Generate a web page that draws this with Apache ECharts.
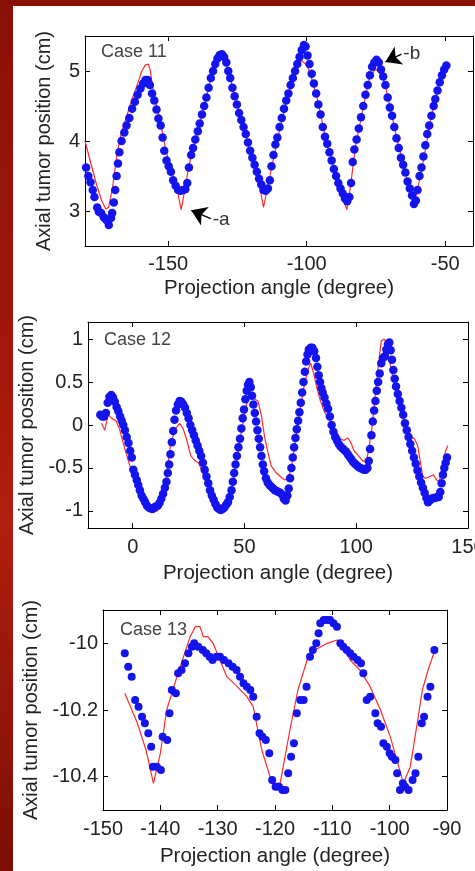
<!DOCTYPE html>
<html>
<head>
<meta charset="utf-8">
<script src="https://cdn.jsdelivr.net/npm/echarts@6/dist/echarts.min.js"></script>
<style>
  html, body { margin: 0; padding: 0; }
  body { width: 475px; height: 871px; position: relative; overflow: hidden;
         background: linear-gradient(180deg, #8a1006 0%, #a5190b 45%, #b01e0e 60%, #7c0e04 100%); }
  #paper { position: absolute; left: 13px; top: 6px; right: 0; bottom: 0; background: #ffffff; }
  #chart { position: absolute; left: 0; top: 0; width: 475px; height: 871px; }
</style>
</head>
<body>
<div id="paper"></div>
<div id="chart"></div>
<script>
// ---- Case 11: measured (dots) and model (line), projection angle vs axial position
const case11Dots = [
  [-180.4,3.75],[-179.6,3.62],[-178.8,3.5],[-178,3.41],[-177.2,3.3],[-176.6,3.2],[-175.6,3.05],[-175,2.99],
  [-174.2,2.97],[-173.2,2.91],[-172.3,2.87],[-171.4,2.8],[-170.6,2.9],[-170.2,2.97],[-169.6,3.12],[-169.1,3.3],
  [-168.6,3.5],[-168.1,3.68],[-167.6,3.84],[-166.8,4.0],[-165.8,4.12],[-165,4.22],[-164,4.33],[-163,4.46],
  [-162,4.56],[-161,4.66],[-160,4.75],[-159,4.82],[-158.2,4.87],[-157.4,4.87],[-156.6,4.8],[-155.8,4.68],
  [-155,4.58],[-154.2,4.45],[-153.5,4.32],[-152.7,4.22],[-152,4.05],[-151.4,3.86],[-150.6,3.72],[-149.8,3.64],
  [-149,3.56],[-148.2,3.44],[-147.3,3.36],[-146.4,3.3],[-145.5,3.29],[-144.6,3.3],[-143.8,3.31],[-143.1,3.4],
  [-142.5,3.62],[-141.7,3.8],[-141,3.9],[-140.2,4.02],[-139.3,4.14],[-138.6,4.25],[-137.8,4.38],[-137,4.5],
  [-136.2,4.62],[-135.4,4.76],[-134.6,4.9],[-133.8,5.0],[-133,5.1],[-132.2,5.18],[-131.4,5.23],[-130.6,5.24],
  [-129.8,5.2],[-129,5.12],[-128.3,5.0],[-127.6,4.9],[-126.8,4.76],[-126,4.64],[-125.2,4.52],[-124.4,4.4],
  [-123.6,4.3],[-122.8,4.2],[-122,4.1],[-121.2,3.98],[-120.4,3.86],[-119.6,3.76],[-118.8,3.66],[-118,3.56],
  [-117.2,3.46],[-116.4,3.38],[-115.6,3.3],[-114.8,3.29],[-114,3.32],[-113.3,3.44],[-112.7,3.64],[-112,3.8],
  [-111.3,3.95],[-110.6,4.05],[-109.8,4.2],[-109,4.33],[-108.2,4.46],[-107.4,4.58],[-106.6,4.68],[-105.8,4.8],
  [-105,4.9],[-104.2,5.0],[-103.4,5.1],[-102.6,5.2],[-101.8,5.3],[-101,5.37],[-100.4,5.35],[-99.7,5.22],
  [-99,5.1],[-98.2,4.96],[-97.4,4.82],[-96.6,4.68],[-95.8,4.52],[-95,4.38],[-94.2,4.2],[-93.4,4.06],
  [-92.6,3.96],[-91.8,3.84],[-91,3.72],[-90.2,3.6],[-89.4,3.5],[-88.6,3.4],[-87.8,3.32],[-87,3.25],
  [-86.2,3.18],[-85.4,3.14],[-84.6,3.2],[-84,3.4],[-83.4,3.7],[-82.8,3.88],[-82,4.02],[-81.2,4.18],
  [-80.4,4.34],[-79.6,4.5],[-78.8,4.66],[-78,4.8],[-77.2,4.94],[-76.4,5.06],[-75.6,5.12],[-74.8,5.16],
  [-74,5.12],[-73.2,5.02],[-72.4,4.92],[-71.6,4.8],[-70.8,4.62],[-70,4.48],[-69.2,4.36],[-68.4,4.2],
  [-67.6,4.04],[-66.8,3.9],[-66,3.76],[-65.2,3.66],[-64.4,3.55],[-63.6,3.42],[-62.8,3.32],[-62,3.22],
  [-61.3,3.1],[-60.6,3.15],[-60,3.3],[-59.3,3.5],[-58.6,3.62],[-57.9,3.78],[-57.2,3.94],[-56.5,4.1],
  [-55.8,4.22],[-55,4.36],[-54.2,4.5],[-53.6,4.6],[-52.8,4.72],[-52,4.84],[-51.2,4.94],[-50.4,5.02],[-49.6,5.08]
];
const case11Line = [
  [-180,4.0],[-179,3.85],[-178,3.7],[-176,3.4],[-174,3.15],[-172.5,3.03],[-171.5,3.05],[-170,3.35],
  [-168.5,3.8],[-167,4.1],[-165,4.35],[-163,4.6],[-161,4.82],[-159.5,5.0],[-158.3,5.08],[-157.2,5.1],
  [-156.5,5.02],[-155.5,4.75],[-154,4.48],[-152.5,4.22],[-151,3.9],[-149,3.6],[-147,3.36],[-145.3,3.02],
  [-144,3.3],[-142.5,3.65],[-140,4.02],[-137,4.5],[-134,4.98],[-132,5.18],[-130.6,5.26],[-129.5,5.16],
  [-127.5,4.88],[-125,4.5],[-122,4.08],[-119,3.66],[-117,3.35],[-115.6,3.05],[-114.3,3.3],[-112.5,3.65],
  [-110,4.12],[-107,4.62],[-104,4.98],[-102,5.15],[-101,5.12],[-100,5.08],[-99,5.0],[-96,4.58],
  [-93,4.0],[-90,3.58],[-87.5,3.22],[-85.5,3.02],[-84.2,3.35],[-82.5,3.9],[-80,4.4],[-77.5,4.88],
  [-75.8,5.0],[-75,5.02],[-74,5.0],[-72,4.85],[-70,4.5],[-67,3.95],[-64,3.48],[-62,3.2],
  [-61.2,3.12],[-60,3.3],[-58,3.7],[-55,4.35],[-52,4.85],[-50,5.08]
];
const case11XTicks = [-150, -100, -50];
const case11YTicks = [3, 4, 5];
// arrow annotations: [tail, tip, text]
const case11Notes = [
  [[-134.6, 2.89], [-141.7, 3.01], '-a'],
  [[-65.8, 5.24], [-71.6, 5.13], '-b']
];

// ---- Case 12
const case12Dots = [
  [-14.5,0.12],[-13.6,0.1],[-12.8,0.1],[-12,0.14],[-11.2,0.26],[-10.4,0.33],[-9.6,0.35],[-8.8,0.32],
  [-8,0.27],[-7.2,0.21],[-6.4,0.16],[-5.6,0.1],[-4.9,0.05],[-4.2,0.0],[-3.5,-0.06],[-2.7,-0.14],
  [-1.9,-0.21],[-1.1,-0.3],[-0.4,-0.38],[0.3,-0.52],[1,-0.58],[1.8,-0.64],[2.5,-0.7],[3.2,-0.76],
  [4,-0.82],[4.8,-0.86],[5.6,-0.9],[6.4,-0.94],[7.2,-0.96],[8,-0.97],[8.8,-0.98],[9.6,-0.96],
  [10.4,-0.95],[11.2,-0.94],[12,-0.91],[12.8,-0.86],[13.6,-0.8],[14.4,-0.73],[15.1,-0.66],[15.7,-0.56],
  [16.3,-0.46],[16.9,-0.34],[17.5,-0.2],[18.1,-0.07],[18.7,0.06],[19.4,0.17],[20.2,0.24],[21,0.28],
  [21.8,0.27],[22.6,0.24],[23.4,0.2],[24.2,0.14],[25,0.08],[25.8,0.0],[26.6,-0.06],[27.4,-0.12],
  [28.2,-0.18],[29,-0.24],[29.8,-0.3],[30.6,-0.36],[31.4,-0.44],[32.2,-0.52],[33,-0.6],[33.8,-0.68],
  [34.6,-0.76],[35.4,-0.82],[36.2,-0.87],[37,-0.92],[37.8,-0.96],[38.6,-0.98],[39.4,-0.99],[40.2,-0.98],
  [41,-0.96],[41.8,-0.93],[42.6,-0.9],[43.4,-0.84],[44.2,-0.76],[44.8,-0.66],[45.4,-0.56],[46,-0.46],
  [46.6,-0.36],[47.3,-0.26],[48,-0.16],[48.6,-0.04],[49.2,0.08],[49.8,0.18],[50.4,0.3],[51,0.4],
  [51.6,0.47],[52.2,0.5],[52.8,0.44],[53.4,0.34],[54,0.24],[54.6,0.14],[55.2,0.04],[55.8,-0.06],
  [56.4,-0.16],[57,-0.26],[57.6,-0.36],[58.2,-0.46],[58.8,-0.54],[59.6,-0.62],[60.4,-0.67],[61.2,-0.7],
  [62,-0.72],[62.8,-0.74],[63.6,-0.76],[64.4,-0.77],[65.2,-0.78],[66,-0.79],[66.8,-0.81],[67.6,-0.86],
  [68.4,-0.88],[69.2,-0.82],[69.8,-0.74],[70.4,-0.62],[71,-0.5],[71.6,-0.38],[72.2,-0.26],[72.8,-0.15],
  [73.4,-0.05],[74,0.05],[74.6,0.15],[75.2,0.26],[75.8,0.38],[76.4,0.5],[77,0.62],[77.6,0.74],
  [78.2,0.82],[78.8,0.88],[79.6,0.9],[80.4,0.9],[81.2,0.86],[82,0.78],[82.6,0.68],[83.2,0.58],
  [83.8,0.5],[84.4,0.43],[85,0.38],[85.8,0.32],[86.6,0.25],[87.4,0.19],[88.2,0.1],[89,0.0],
  [89.8,-0.08],[90.6,-0.14],[91.4,-0.18],[92.2,-0.22],[93,-0.25],[93.8,-0.27],[94.6,-0.29],[95.4,-0.31],
  [96.2,-0.34],[97,-0.37],[97.8,-0.4],[98.6,-0.43],[99.4,-0.45],[100.2,-0.47],[101,-0.49],[101.8,-0.5],
  [102.6,-0.51],[103.4,-0.52],[104.2,-0.52],[105,-0.5],[105.6,-0.42],[106.2,-0.28],[106.8,-0.12],[107.4,0.04],
  [108,0.17],[108.6,0.28],[109.2,0.4],[109.8,0.5],[110.5,0.6],[111.2,0.72],[112,0.78],[112.8,0.8],
  [113.5,0.88],[114.2,0.94],[114.8,0.96],[115.4,0.87],[116,0.76],[116.6,0.64],[117.2,0.54],[117.8,0.45],
  [118.6,0.36],[119.4,0.28],[120.2,0.2],[121,0.12],[121.8,0.02],[122.6,-0.06],[123.4,-0.14],[124.2,-0.22],
  [125,-0.3],[125.8,-0.38],[126.6,-0.45],[127.4,-0.53],[128.2,-0.6],[129,-0.67],[129.8,-0.73],[130.6,-0.79],
  [131.4,-0.85],[132.1,-0.9],[132.9,-0.88],[133.7,-0.86],[134.5,-0.85],[135.3,-0.85],[136.1,-0.84],[136.9,-0.84],
  [137.6,-0.78],[138.2,-0.68],[138.8,-0.58],[139.4,-0.5],[140,-0.44],[140.6,-0.38]
];
const case12Line = [
  [-14,0.02],[-12.5,-0.06],[-11,0.12],[-9.5,0.08],[-7.5,0.05],[-6,-0.04],[-3.5,-0.28],[-1,-0.5],
  [1,-0.62],[4,-0.84],[6,-0.94],[8.5,-1.02],[11,-1.0],[12.5,-0.92],[14.5,-0.7],[17,-0.22],
  [19,-0.05],[21,0.02],[22.5,-0.04],[24,-0.16],[26,-0.36],[28,-0.42],[29.5,-0.44],[31,-0.54],
  [33.5,-0.72],[36,-0.84],[39,-0.93],[41,-0.97],[42.5,-0.92],[44.5,-0.74],[46.5,-0.42],[48.5,-0.1],
  [50,0.12],[51.5,0.3],[53.5,0.32],[56,0.28],[57.5,0.12],[59,-0.14],[60.5,-0.32],[62,-0.48],
  [64,-0.55],[66,-0.6],[68,-0.64],[69.5,-0.62],[71,-0.5],[73,-0.15],[75,0.2],[77,0.5],
  [78.5,0.65],[79.6,0.72],[81,0.6],[82.5,0.42],[84,0.28],[86,0.14],[88,0.06],[90,-0.04],
  [91.5,-0.1],[93,-0.16],[94.5,-0.18],[96.2,-0.15],[97.5,-0.2],[99,-0.3],[101,-0.36],[103,-0.42],
  [104.5,-0.42],[105.5,-0.3],[107,-0.04],[108.5,0.35],[110,0.72],[111.2,0.98],[112.5,1.0],[113.6,0.96],
  [114.5,0.8],[116,0.6],[118,0.38],[120,0.16],[122,-0.02],[124,-0.12],[126,-0.16],[127.5,-0.24],
  [128.8,-0.45],[129.8,-0.6],[131,-0.62],[133,-0.6],[134.5,-0.58],[136,-0.64],[137.2,-0.66],[138.5,-0.48],
  [140,-0.3],[141,-0.24]
];
const case12XTicks = [0, 50, 100, 150];
const case12YTicks = [-1, -0.5, 0, 0.5, 1];

// ---- Case 13
const case13Dots = [
  [-146.2,-10.03],[-145.6,-10.07],[-145,-10.1],[-144.4,-10.17],[-143.8,-10.19],[-143.2,-10.22],[-142.7,-10.24],
  [-142.1,-10.27],[-141.6,-10.31],[-141.3,-10.37],[-140.6,-10.37],[-139.9,-10.38],[-139.6,-10.28],[-138.8,-10.29],
  [-138.4,-10.21],[-138,-10.14],[-137.3,-10.15],[-136.9,-10.09],[-136.3,-10.08],[-135.7,-10.06],[-135.1,-10.03],
  [-134.5,-10.01],[-134.1,-10.0],[-133.4,-10.01],[-132.6,-10.02],[-132,-10.03],[-131.4,-10.04],[-130.9,-10.05],
  [-130.2,-10.04],[-129.6,-10.04],[-128.9,-10.05],[-128.1,-10.06],[-127.4,-10.07],[-126.7,-10.08],[-126.1,-10.1],
  [-125.5,-10.12],[-124.9,-10.13],[-124.3,-10.14],[-123.8,-10.16],[-123.2,-10.22],[-122.7,-10.27],[-122.2,-10.28],
  [-121.6,-10.29],[-121,-10.33],[-120.5,-10.41],[-119.9,-10.43],[-119.3,-10.43],[-118.7,-10.44],[-118.2,-10.44],
  [-117.7,-10.39],[-117.2,-10.34],[-116.7,-10.3],[-116.2,-10.21],[-115.6,-10.17],[-115,-10.17],[-114.5,-10.13],
  [-113.9,-10.04],[-113.4,-10.02],[-112.8,-10.0],[-112.4,-9.97],[-112.1,-9.94],[-111.5,-9.93],[-110.9,-9.93],
  [-110.4,-9.93],[-109.8,-9.94],[-109.2,-9.95],[-108.6,-10.0],[-108.1,-10.01],[-107.5,-10.02],[-106.9,-10.03],
  [-106.3,-10.04],[-105.6,-10.05],[-105,-10.06],[-104.6,-10.09],[-104,-10.17],[-103.4,-10.16],[-102.5,-10.21],
  [-102.1,-10.24],[-101.5,-10.25],[-101.1,-10.3],[-100.5,-10.31],[-100,-10.33],[-99.6,-10.34],[-99,-10.35],
  [-98.7,-10.39],[-98.2,-10.44],[-97.7,-10.42],[-97.3,-10.43],[-96.7,-10.44],[-96,-10.41],[-95.5,-10.39],
  [-95,-10.34],[-94.4,-10.24],[-94,-10.22],[-93.4,-10.16],[-92.9,-10.13],[-92.2,-10.02]
];
const case13Line = [
  [-146.2,-10.15],[-144,-10.24],[-142.5,-10.32],[-141.2,-10.42],[-140,-10.33],[-138.9,-10.2],[-137.1,-10.1],
  [-134.8,-9.98],[-133.9,-9.95],[-133.1,-9.95],[-132.5,-9.98],[-131.7,-9.98],[-130.8,-10.0],[-128.4,-10.1],
  [-126.6,-10.13],[-124.9,-10.16],[-123.8,-10.19],[-122.3,-10.32],[-120.5,-10.42],[-119.1,-10.42],[-117.4,-10.26],
  [-116,-10.14],[-114.4,-10.05],[-113,-10.02],[-110.9,-10.0],[-109.2,-9.99],[-108.1,-10.01],[-106.9,-10.05],
  [-105.2,-10.08],[-103.4,-10.13],[-101.6,-10.2],[-99.9,-10.28],[-97.6,-10.42],[-96.4,-10.37],[-95.2,-10.24],
  [-94.3,-10.14],[-93.3,-10.08],[-92.1,-10.02]
];
const case13XTicks = [-150, -140, -130, -120, -110, -100, -90];
const case13YTicks = [-10.4, -10.2, -10];

const xTitle = 'Projection angle (degree)';
const yTitle = 'Axial tumor position (cm)';
const caseNames = ['Case 11', 'Case 12', 'Case 13'];

const FONT = 'Liberation Sans, Arial, Helvetica, sans-serif';
const INK = '#222';
const DOT = '#1414ee';
const FIT = '#ff2a2a';

// panel layout: pixel boxes of each plot frame
const panels = [
  { grid: { left: 85, top: 36, width: 388, height: 210 }, x: [-180, -40], y: [2.5, 5.5],
    xt: case11XTicks, yt: case11YTicks, dots: case11Dots, line: case11Line,
    lblMargin: 8, nameGapX: 32, nameGapY: 31, title: { left: 101, top: 43 } },
  { grid: { left: 88, top: 322, width: 380, height: 206 }, x: [-20, 150], y: [-1.2, 1.2],
    xt: case12XTicks, yt: case12YTicks, dots: case12Dots, line: case12Line,
    lblMargin: 9, nameGapX: 35, nameGapY: 41, title: { left: 104, top: 331 } },
  { grid: { left: 103, top: 610, width: 344, height: 200 }, x: [-150, -90], y: [-10.5, -9.9],
    xt: case13XTicks, yt: case13YTicks, dots: case13Dots, line: case13Line,
    lblMargin: 9, nameGapX: 36, nameGapY: 51, title: { left: 120, top: 621 } }
];

const grids = [], xAxes = [], yAxes = [], series = [], titles = [];

panels.forEach((p, i) => {
  grids.push(Object.assign({ containLabel: false, outerBoundsMode: 'none' }, p.grid));
  const tick = (vals) => ({ show: true, inside: true, length: 5, customValues: vals,
                            lineStyle: { color: '#000', width: 1 } });
  const line = { show: true, onZero: false, lineStyle: { color: '#000', width: 1 } };
  // bottom / left axes carry labels and titles; top / right mirror the ticks
  xAxes.push({ type: 'value', gridIndex: i, position: 'bottom', min: p.x[0], max: p.x[1],
    axisLine: line, axisTick: tick(p.xt), splitLine: { show: false },
    axisLabel: { customValues: p.xt, margin: p.lblMargin, fontSize: 20, color: INK, fontFamily: FONT,
                 hideOverlap: false },
    name: xTitle, nameLocation: 'middle', nameGap: p.nameGapX,
    nameTextStyle: { fontSize: 20.5, color: INK, fontFamily: FONT } });
  xAxes.push({ type: 'value', gridIndex: i, position: 'top', min: p.x[0], max: p.x[1],
    axisLine: line, axisTick: tick(p.xt), axisLabel: { show: false }, splitLine: { show: false } });
  yAxes.push({ type: 'value', gridIndex: i, position: 'left', min: p.y[0], max: p.y[1],
    axisLine: line, axisTick: tick(p.yt), splitLine: { show: false },
    axisLabel: { customValues: p.yt, margin: 5, fontSize: 20, color: INK, fontFamily: FONT },
    name: yTitle, nameLocation: 'middle', nameGap: p.nameGapY, nameRotate: 90,
    nameTextStyle: { fontSize: 20, color: INK, fontFamily: FONT } });
  yAxes.push({ type: 'value', gridIndex: i, position: 'right', min: p.y[0], max: p.y[1],
    axisLine: line, axisTick: tick(p.yt), axisLabel: { show: false }, splitLine: { show: false } });

  series.push({
    type: 'line', xAxisIndex: 2 * i, yAxisIndex: 2 * i, data: p.line, showSymbol: false,
    lineStyle: { color: FIT, width: 1.2 }, z: 2, animation: false, silent: true
  });
  series.push({
    type: 'scatter', xAxisIndex: 2 * i, yAxisIndex: 2 * i, data: p.dots,
    symbol: 'circle', symbolSize: i === 2 ? 8 : 8.5,
    itemStyle: { color: DOT, opacity: 1 }, z: 3, animation: false, silent: true
  });
  if (i === 0) {
    // arrow call-outs drawn above the dots
    series.push({
      type: 'line', xAxisIndex: 0, yAxisIndex: 0, data: [], z: 5, silent: true, animation: false,
      markLine: {
        silent: true, animation: false, symbol: ['none', 'arrow'], symbolSize: 15,
        itemStyle: { color: '#000' },
        lineStyle: { color: '#000', width: 1.3, type: 'solid' },
        label: { show: true, position: 'start', distance: 2, fontSize: 19, color: '#333', fontFamily: FONT },
        data: case11Notes.map(n => [
          { coord: n[0], label: { formatter: n[2] } },
          { coord: n[1] }
        ])
      }
    });
  }

  titles.push({ text: caseNames[i], left: p.title.left, top: p.title.top, padding: 0,
    textStyle: { fontSize: 18, fontWeight: 'normal', color: '#444', fontFamily: FONT } });
});

const chart = echarts.init(document.getElementById('chart'), null, { renderer: 'canvas' });
chart.setOption({
  animation: false,
  backgroundColor: 'transparent',
  title: titles,
  grid: grids,
  xAxis: xAxes,
  yAxis: yAxes,
  series: series
});
</script>
</body>
</html>
